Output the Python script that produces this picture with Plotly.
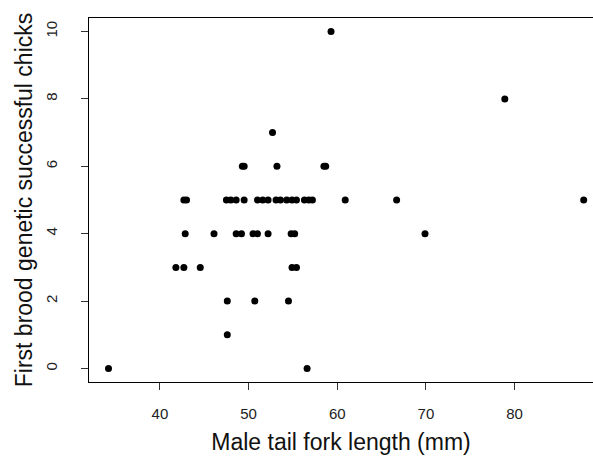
import plotly.graph_objects as go

# Data (male tail fork length vs chicks)
chicks_0 = [34.2, 56.6]
chicks_1 = [47.6]
chicks_2 = [47.6, 50.7, 54.5]
chicks_3 = [41.8, 42.7, 44.55, 54.9, 55.4]
chicks_4 = [42.85, 46.1, 48.6, 49.2, 50.5, 51.0, 52.2, 54.8, 55.2, 69.9]
chicks_5 = [42.7, 43.0, 47.5, 48.0, 48.6, 49.5, 51.0, 51.6, 52.2, 53.1, 53.6,
            54.3, 54.9, 55.4, 56.3, 56.8, 57.2, 60.9, 66.7, 87.8]
chicks_6 = [49.3, 49.5, 53.2, 58.5, 58.7]
chicks_7 = [52.7]
chicks_8 = [78.9]
chicks_10 = [59.3]

groups = {0: chicks_0, 1: chicks_1, 2: chicks_2, 3: chicks_3, 4: chicks_4,
          5: chicks_5, 6: chicks_6, 7: chicks_7, 8: chicks_8, 10: chicks_10}

tail_fork_mm = []
chicks = []
for k, xs in groups.items():
    tail_fork_mm.extend(xs)
    chicks.extend([k] * len(xs))

x_ticks = [40, 50, 60, 70, 80]
y_ticks = [0, 2, 4, 6, 8, 10]

fig = go.Figure(go.Scatter(
    x=tail_fork_mm, y=chicks, mode="markers",
    marker=dict(color="black", size=7, line=dict(width=0)),
    hoverinfo="skip",
))

font_family = "Liberation Sans, Arial, sans-serif"

fig.update_layout(
    width=593, height=466,
    margin=dict(l=89, r=0, t=17.5, b=83.5, autoexpand=False),
    paper_bgcolor="white", plot_bgcolor="white",
    showlegend=False,
    font=dict(family=font_family, color="#222"),
    xaxis=dict(
        range=[32.0, 88.85], tickvals=x_ticks, ticktext=[str(v) for v in x_ticks],
        showgrid=False, zeroline=False, automargin=False,
        showline=True, linecolor="black", linewidth=1, mirror=True,
        ticks="outside", ticklen=7, tickcolor="#333", tickwidth=1,
        tickfont=dict(size=15, color="#222"), ticklabelstandoff=11,
        title=dict(text="Male tail fork length (mm)", font=dict(size=23, color="#111"),
                   standoff=12),
    ),
    yaxis=dict(
        range=[-0.4, 10.4], tickvals=y_ticks, ticktext=[str(v) for v in y_ticks],
        showgrid=False, zeroline=False, automargin=False,
        showline=True, linecolor="black", linewidth=1, mirror=False,
        ticks="outside", ticklen=7, tickcolor="#333", tickwidth=1,
        tickangle=-90,
        tickfont=dict(size=15, color="#222"), ticklabelstandoff=18,
        title=dict(text="First brood genetic successful chicks",
                   font=dict(size=23, color="#111"), standoff=3),
    ),
)

fig.write_html("out.html")
